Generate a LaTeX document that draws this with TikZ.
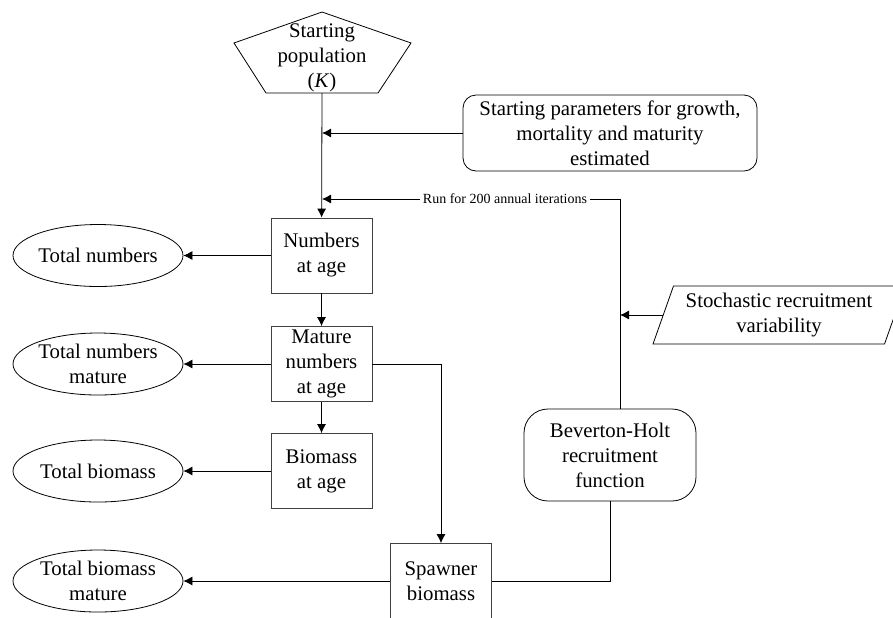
\documentclass[tikz,border=0pt]{standalone}
\usepackage{fontspec}
\setmainfont{Liberation Serif}
\usetikzlibrary{shapes.geometric,arrows.meta}
\begin{document}
\begin{tikzpicture}[>={Latex[length=4.5pt,width=4.5pt]}, x=.5pt, y=-.5pt,
    every node/.style={font=\fontsize{10.4}{12.5}\selectfont, align=center},
    box/.style={draw=black!75, minimum width=50.5pt, minimum height=37.5pt, inner sep=1pt},
    oval/.style={draw, ellipse, minimum width=85pt, minimum height=31pt, inner sep=0pt},
    rbox/.style={draw, rounded corners=#1, inner sep=1pt}]
\useasboundingbox (0,0) rectangle (893,617);
% starting population
\draw (322,12)--(411,43)--(378,93)--(266,93)--(234,43)--cycle;
\node (pop) at (322,58) {Starting\\population\\(\textit{K})};
\coordinate (popbot) at (322,93);
\coordinate (runcorner) at (620,199);
% model boxes
\node[box] (num) at (321.5,255.5) {Numbers\\at age};
\node[box] (mat) at (321.5,364) {Mature\\numbers\\at age};
\node[box] (bio) at (321.5,471) {Biomass\\at age};
\node[box] (spawn) at (441,581) {Spawner\\biomass};
\node[rbox=6.5pt, minimum width=147pt, minimum height=38pt] (param) at (610,133)
    {Starting parameters for growth,\\mortality and maturity\\estimated};
\node[rbox=12pt, minimum width=86pt, minimum height=46pt] (bh) at (610,455)
    {Beverton-Holt\\recruitment\\function};
\node[draw, trapezium, trapezium left angle=65, trapezium right angle=115,
    trapezium stretches body, minimum width=126pt, minimum height=29pt, inner sep=0pt]
    (stoch) at (779,315) {Stochastic recruitment\\variability};
% outputs
\node[oval] (totnum) at (98,255.5) {Total numbers};
\node[oval] (totmat) at (98,364) {Total numbers\\mature};
\node[oval] (totbio) at (98,471) {Total biomass};
\node[oval] (totspawn) at (98,581) {Total biomass\\mature};
% connectors
\draw[->] (popbot)--(num);
\draw[->] (param.west)--(param.west -| popbot);
\draw[->] (bh.north -| runcorner)--(runcorner)--(runcorner -| popbot);
\node[fill=white, inner xsep=1.5pt, inner ysep=1pt, font=\fontsize{7}{8}\selectfont] (run) at (505,199)
    {Run for 200 annual iterations};
\draw[->] (stoch.west)--(stoch.west -| runcorner);
\draw[->] (num)--(mat);
\draw[->] (mat)--(bio);
\draw[->] (mat.east)--(mat.east -| spawn)--(spawn);
\draw (bh.south)--(bh.south |- spawn.east)--(spawn.east);
\draw[->] (num)--(totnum);
\draw[->] (mat)--(totmat);
\draw[->] (bio)--(totbio);
\draw[->] (spawn)--(totspawn);
\end{tikzpicture}
\end{document}
